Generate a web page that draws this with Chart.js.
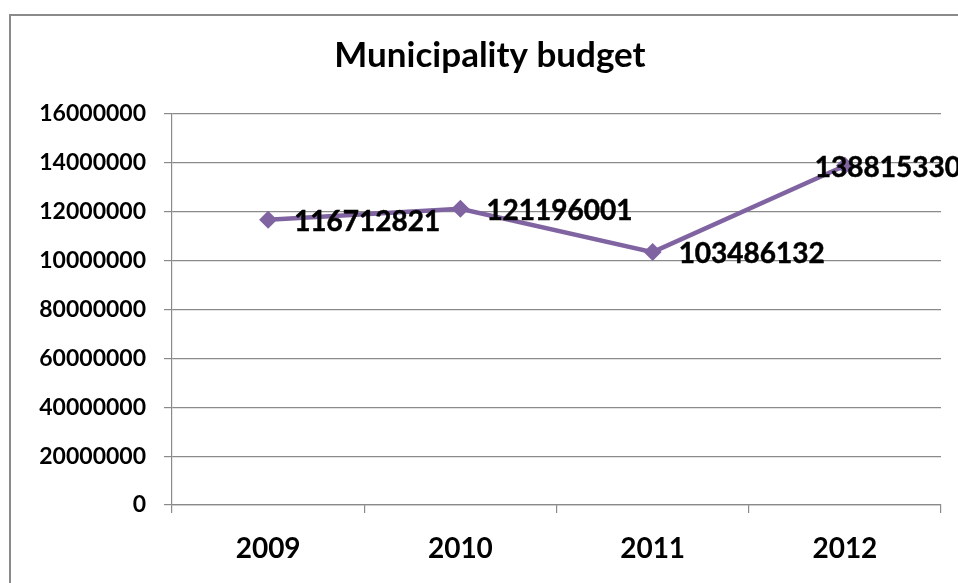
<!DOCTYPE html>
<html>
<head>
<meta charset="utf-8">
<script src="https://cdn.jsdelivr.net/npm/chart.js@4/dist/chart.umd.min.js"></script>
<style>
  html, body { margin: 0; padding: 0; background: #fff; overflow: hidden; width: 958px; height: 583px; }
  #wrap { position: absolute; left: 0; top: 0; width: 980px; height: 583px; }
  #frame { position: absolute; left: 9px; top: 14px; width: 1000px; height: 620px;
           border: 2px solid #8a8a8a; box-sizing: border-box; pointer-events: none; }
</style>
</head>
<body>
<div id="wrap"><canvas id="chart" width="980" height="583"></canvas></div>
<div id="frame"></div>
<script>
// Annual budget figures
const years = ['2009', '2010', '2011', '2012'];
const budget = [116712821, 121196001, 103486132, 138815330];
const tickValues = [0, 20000000, 40000000, 60000000, 80000000, 100000000, 120000000, 140000000, 160000000];
const tickLabels = ['0', '20000000', '40000000', '60000000', '80000000', '10000000', '12000000', '14000000', '16000000'];

const FONT = 'Lato, "Open Sans", sans-serif';
const WEIGHT = 'bold';
const LINE_COLOR = '#8064A2';
const GRID_COLOR = '#8a8a8a';

// Value labels next to each point
const valueLabels = {
  id: 'valueLabels',
  afterDatasetsDraw(chart) {
    const ctx = chart.ctx;
    const meta = chart.getDatasetMeta(0);
    const area = chart.chartArea;
    ctx.save();
    ctx.font = WEIGHT + ' 28px ' + FONT;
    ctx.fillStyle = '#000';
    ctx.strokeStyle = '#000';
    ctx.lineWidth = 0.5;
    ctx.textBaseline = 'middle';
    ctx.textAlign = 'left';
    meta.data.forEach((pt, i) => {
      const text = String(chart.data.datasets[0].data[i]);
      const w = ctx.measureText(text).width;
      let x = pt.x + 26;
      const maxRight = area.right + 20;
      if (x + w > maxRight) x = maxRight - w;
      ctx.fillText(text, x, pt.y + 2);
      ctx.strokeText(text, x, pt.y + 2);
    });
    ctx.restore();
  }
};

new Chart(document.getElementById('chart'), {
  type: 'line',
  data: {
    labels: years,
    datasets: [{
      label: 'Budget',
      data: budget,
      borderColor: LINE_COLOR,
      backgroundColor: LINE_COLOR,
      borderWidth: 4.5,
      pointStyle: 'rectRot',
      pointRadius: 9,
      pointBorderWidth: 0,
      tension: 0
    }]
  },
  options: {
    responsive: false,
    animation: false,
    events: [],
    layout: { padding: { left: 39, right: 39, top: 0, bottom: 0 } },
    plugins: {
      legend: { display: false },
      tooltip: { enabled: false },
      title: {
        display: true,
        text: 'Municipality budget',
        color: '#000',
        font: { family: FONT, size: 35, weight: WEIGHT, lineHeight: 1.2 },
        padding: { top: 35, bottom: 37 }
      }
    },
    scales: {
      x: {
        offset: true,
        grid: { offset: true, drawOnChartArea: false, drawTicks: true, tickLength: 8, color: GRID_COLOR, lineWidth: 1.2 },
        border: { display: true, color: GRID_COLOR, width: 1.2 },
        ticks: { color: '#000', font: { family: FONT, size: 28, weight: WEIGHT }, padding: 19, maxRotation: 0 },
        afterFit(scale) { scale.height = 78; }
      },
      y: {
        min: 0,
        max: 160000000,
        afterBuildTicks(scale) { scale.ticks = tickValues.map(v => ({ value: v })); },
        grid: { color: GRID_COLOR, lineWidth: 1.2, drawTicks: true, tickLength: 8 },
        border: { display: true, color: GRID_COLOR, width: 1.2 },
        ticks: {
          color: '#000',
          padding: 18,
          font: { family: FONT, size: 23, weight: WEIGHT },
          callback(value) {
            const i = tickValues.indexOf(value);
            return i >= 0 ? tickLabels[i] : '';
          }
        },
        afterFit(scale) { scale.width = 133; }
      }
    }
  },
  plugins: [valueLabels]
});
</script>
</body>
</html>
